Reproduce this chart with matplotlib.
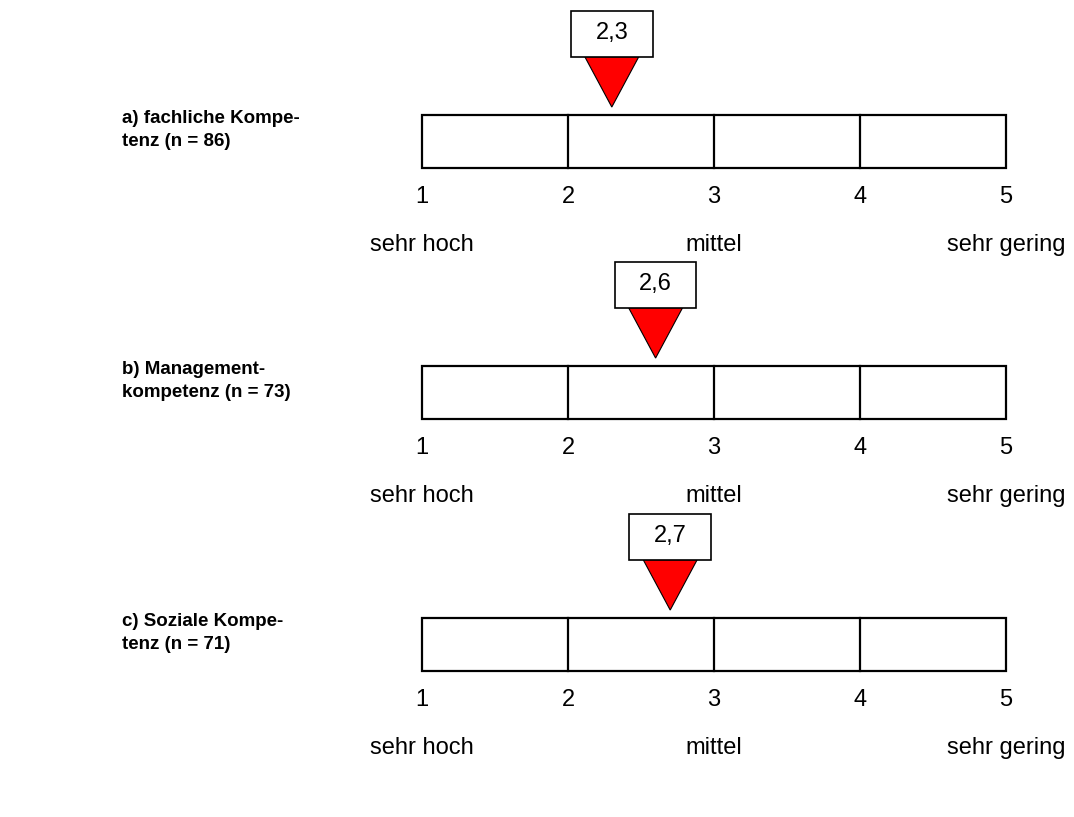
import matplotlib.pyplot as plt
from matplotlib.patches import Rectangle, Polygon

plt.rcParams['font.family'] = ['Liberation Sans', 'DejaVu Sans']

labels = ["a) fachliche Kompe-\ntenz (n = 86)",
          "b) Management-\nkompetenz (n = 73)",
          "c) Soziale Kompe-\ntenz (n = 71)"]
means = [2.3, 2.6, 2.7]
value_text = ["2,3", "2,6", "2,7"]
ticks = [1, 2, 3, 4, 5]
scale_words = {1: "sehr hoch", 3: "mittel", 5: "sehr gering"}

W, H = 1074, 817
fig = plt.figure(figsize=(W / 100, H / 100), dpi=100)

box_tops = [115, 366, 618]
box_h = 53
x0, x1 = 422, 1006

for i, top in enumerate(box_tops):
    ax = fig.add_axes([x0 / W, 1 - (top + box_h) / H, (x1 - x0) / W, box_h / H])
    ax.set_xlim(1, 5)
    ax.set_ylim(0, 1)
    ax.axis('off')

    # scale box with dividers
    ax.add_patch(Rectangle((1, 0), 4, 1, fill=False, ec='black', lw=1.6, clip_on=False))
    for t in ticks[1:-1]:
        ax.plot([t, t], [0, 1], color='black', lw=1.6, clip_on=False)

    for t in ticks:
        ax.text(t, -0.55, str(t), ha='center', va='center', fontsize=17)
    for t, w in scale_words.items():
        ax.text(t, -1.45, w, ha='center', va='center', fontsize=17)

    # marker triangle + value box
    m = means[i]
    hw = 0.185
    tri = Polygon([(m, 1.15), (m - hw, 2.1), (m + hw, 2.1)], closed=True,
                  fc='#ff0000', ec='black', lw=0.8, clip_on=False)
    ax.add_patch(tri)
    bw = 0.28
    ax.add_patch(Rectangle((m - bw, 2.1), 2 * bw, 0.87, fc='white', ec='black',
                           lw=1.2, clip_on=False, zorder=3))
    ax.text(m, 2.1 + 0.44, value_text[i], ha='center', va='center', fontsize=17, zorder=4)

    fig.text(122 / W, 1 - (top + 15) / H, labels[i], ha='left', va='center',
             fontsize=13.5, fontweight='bold', linespacing=1.4)

fig.savefig('out.png', dpi=100, facecolor='white')
